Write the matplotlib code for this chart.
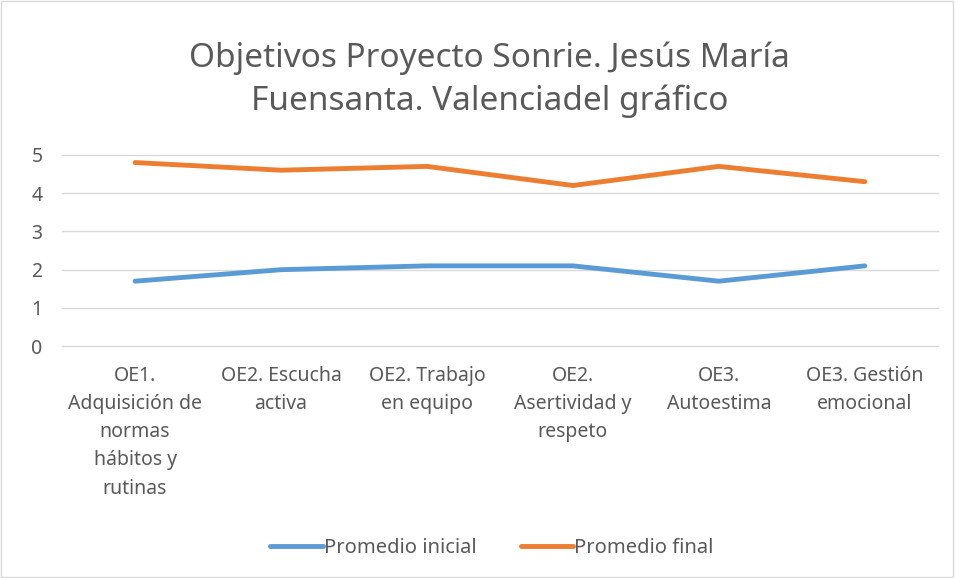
import matplotlib.pyplot as plt
from matplotlib.patches import Rectangle

categories = [
    'OE1.\nAdquisición de\nnormas\nhábitos y\nrutinas',
    'OE2. Escucha\nactiva',
    'OE2. Trabajo\nen equipo',
    'OE2.\nAsertividad y\nrespeto',
    'OE3.\nAutoestima',
    'OE3. Gestión\nemocional',
]
promedio_inicial = [1.7, 2.0, 2.1, 2.1, 1.7, 2.1]
promedio_final = [4.8, 4.6, 4.7, 4.2, 4.7, 4.3]

plt.rcParams['font.family'] = ['Noto Sans', 'DejaVu Sans']
text_color = '#595959'

fig = plt.figure(figsize=(9.55, 5.78), dpi=100)
ax = fig.add_axes([0.065, 0.401, 0.917, 0.331])

x = range(len(categories))
ax.plot(x, promedio_inicial, color='#5B9BD5', lw=3.5, solid_capstyle='round', label='Promedio inicial')
ax.plot(x, promedio_final, color='#ED7D31', lw=3.5, solid_capstyle='round', label='Promedio final')

ax.set_xlim(-0.5, len(categories) - 0.5)
ax.set_ylim(0, 5)
ax.set_yticks(range(6))
ax.grid(axis='y', color='#D9D9D9', lw=1)
for gl in ax.get_ygridlines():
    gl.set_clip_on(False)
ax.set_axisbelow(True)
for s in ax.spines.values():
    s.set_visible(False)
ax.set_xticks(list(x))
ax.set_xticklabels(categories, linespacing=1.55, va='top')
ax.tick_params(axis='both', length=0, colors=text_color, labelsize=14)
ax.tick_params(axis='x', pad=14)
ax.tick_params(axis='y', pad=18)
for lab in ax.get_yticklabels():
    lab.set_horizontalalignment('center')

fig.text(0.513, 0.862, 'Objetivos Proyecto Sonrie. Jesús María\nFuensanta. Valenciadel gráfico',
         ha='center', va='center', fontsize=24, color=text_color, linespacing=1.4)

fig.legend(loc='lower center', bbox_to_anchor=(0.515, 0.004), ncol=2, frameon=False,
           fontsize=14.5, labelcolor=text_color, handlelength=2.6, handletextpad=0.05,
           columnspacing=2.2)

fig.patches.append(Rectangle((0.001, 0.001), 0.997, 0.997, transform=fig.transFigure,
                             fill=False, edgecolor='#D9D9D9', lw=1))

fig.savefig('out.png', dpi=100)
